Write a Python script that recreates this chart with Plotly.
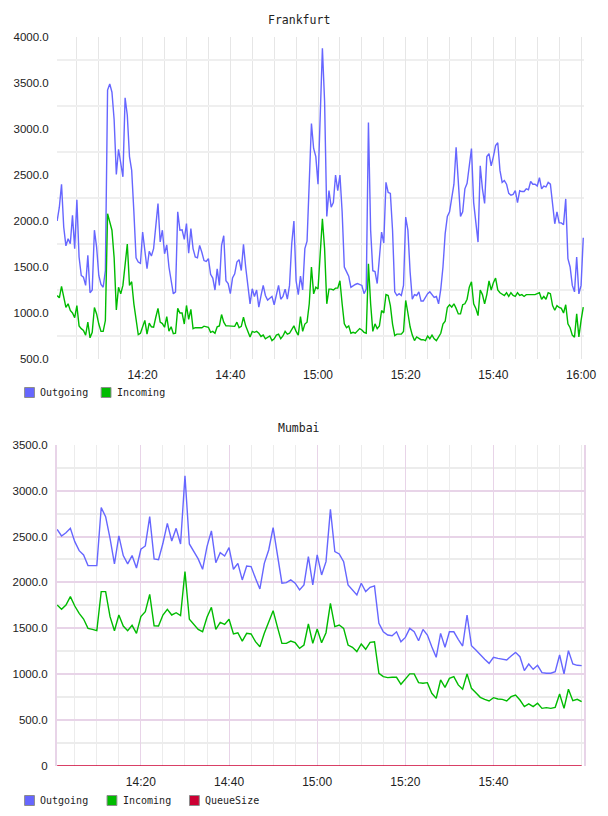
import pandas as pd
import plotly.graph_objects as go

# ---------------- data ----------------
frankfurt_start = "2024-01-01 14:00:30"
frankfurt_step_s = 30
frankfurt_outgoing = [
    2000, 2150, 2400, 1935, 1730, 1807, 1753, 2062, 1700, 2230,
    1608, 1408, 1390, 1300, 1626, 1220, 1250, 1900, 1717, 1408,
    1310, 1280, 1460, 3423, 3490, 3400, 3100, 2505, 2780, 2624,
    2480, 3340, 3150, 2700, 2550, 2100, 1600, 1554, 1540, 1880,
    1650, 1481, 1670, 1620, 1700, 1950, 2189, 1772, 1900, 1644,
    1740, 1500, 1354, 1208, 1230, 2100, 1900, 1905, 1800, 1971,
    1650, 1917, 1700, 1610, 1600, 1735, 1660, 1570, 1560, 1590,
    1420, 1380, 1250, 1480, 1300, 1735, 1840, 1350, 1320, 1210,
    1380, 1426, 1553, 1580, 1462, 1746, 1500, 1300, 1100, 1263,
    1180, 1250, 1063, 1190, 1300, 1190, 1140, 1160, 1180, 1090,
    1190, 1300, 1150, 1180, 1260, 1150, 1300, 1750, 2000, 1350,
    1200, 1400, 1250, 1700, 1780, 2400, 3060, 2788, 2700, 2400,
    3100, 3877, 3300, 2050, 2330, 2150, 2200, 2500, 2330, 2500,
    2100, 1500, 1450, 1400, 1280, 1300, 1310, 1320, 1310, 1300,
    1210, 1260, 3070, 1900, 1460, 1450, 1320, 1600, 1880, 1760,
    2420, 2310, 2300, 1900, 1230, 1190, 1210, 1190, 1300, 2043,
    1900, 1450, 1150, 1200, 1190, 1230, 1130, 1130, 1170, 1210,
    1230, 1195, 1170, 1180, 1100, 1260, 1500, 1860, 2050, 2100,
    2243, 2400, 2800, 2450, 2050, 2100, 2350, 2410, 2600, 2788,
    2200, 2000, 1771, 2600, 2350, 2190, 2700, 2733, 2600, 2700,
    2820, 2850, 2550, 2420, 2440, 2400, 2300, 2280, 2290, 2330,
    2200, 2330, 2320, 2320, 2350, 2340, 2430, 2400, 2400, 2380,
    2470, 2350, 2380, 2370, 2420, 2400, 2180, 1970, 2100, 1980,
    1980, 1960, 2240, 1590, 1500, 1300, 1230, 1608, 1208, 1300,
    1818,
]
frankfurt_incoming = [
    1190, 1165, 1290, 1154, 1060, 1100, 1027, 1000, 950, 1080,
    860, 830, 810, 760, 900, 730, 790, 1060, 990, 880,
    800, 800, 918, 2080, 2000, 1900, 1600, 1034, 1280, 1208,
    1300, 1540, 1750, 1300, 1340, 1100, 900, 765, 780, 860,
    920, 770, 890, 850, 845, 954, 1050, 900, 885, 845,
    960, 802, 850, 775, 780, 1050, 1000, 1000, 880, 1082,
    930, 1040, 830, 840, 840, 845, 840, 857, 855, 845,
    790, 800, 780, 850, 860, 983, 900, 860, 860, 860,
    860, 855, 900, 840, 855, 954, 860, 790, 740, 800,
    790, 800, 780, 745, 760, 720, 740, 750, 700, 720,
    760, 770, 720, 750, 800, 770, 780, 820, 860, 800,
    760, 960, 800, 880, 900, 1100, 1500, 1208, 1280, 1260,
    1650, 2025, 1700, 1100, 1260, 1260, 1250, 1270, 1270, 1350,
    1100, 882, 840, 860, 780, 790, 780, 800, 830, 815,
    790, 780, 1535, 1100, 800, 882, 830, 860, 1027, 1000,
    1200, 1190, 1080, 880, 754, 770, 770, 770, 800, 1136,
    1000, 850, 760, 700, 740, 720, 710, 710, 700, 750,
    720, 760, 720, 700, 740, 780, 880, 910, 1060, 1090,
    1065, 1100, 1050, 990, 990, 1090, 1100, 1150, 1280, 1340,
    1100, 1050, 972, 1250, 1200, 1100, 1200, 1350, 1250, 1330,
    1380, 1250, 1220, 1200, 1190, 1220, 1180, 1220, 1190, 1180,
    1220, 1190, 1200, 1180, 1200, 1200, 1200, 1200, 1200, 1210,
    1220, 1150, 1180, 1150, 1220, 1210, 1080, 1030, 1080, 1060,
    1050, 1000, 1090, 882, 840, 760, 736, 990, 740, 920,
    1063,
]

mumbai_start = "2024-01-01 14:01:00"
mumbai_step_s = 60
mumbai_outgoing = [
    2578, 2506, 2540, 2589, 2444, 2346, 2299, 2183, 2183, 2183,
    2814, 2716, 2480, 2202, 2506, 2292, 2202, 2292, 2157, 2361,
    2397, 2716, 2256, 2248, 2426, 2643, 2451, 2589, 2419, 3160,
    2419, 2335, 2256, 2143, 2390, 2561, 2215, 2324, 2288, 2379,
    2143, 2208, 2027, 2179, 2172, 2045, 1929, 2208, 2353, 2596,
    2299, 1991, 1998, 2027, 1991, 1918, 1973, 2281, 1973, 2299,
    2081, 2226, 2796, 2335, 2310, 2226, 1973, 1918, 1864, 1991,
    1900, 1947, 1962, 1554, 1462, 1427, 1419, 1462, 1354, 1401,
    1499, 1462, 1365, 1488, 1427, 1300, 1184, 1445, 1293, 1462,
    1462, 1380, 1307, 1645, 1311, 1264, 1209, 1162, 1118, 1184,
    1173, 1162, 1155, 1198, 1238, 1191, 1039, 1111, 1053, 1097,
    1017, 1010, 1010, 1028, 1209, 1003, 1257, 1111, 1097, 1093,
]
mumbai_incoming = [
    1754, 1707, 1754, 1845, 1743, 1663, 1601, 1499, 1488, 1474,
    1899, 1899, 1627, 1474, 1645, 1525, 1474, 1532, 1445, 1627,
    1682, 1870, 1528, 1525, 1645, 1707, 1645, 1670, 1638, 2117,
    1598, 1547, 1488, 1463, 1620, 1729, 1488, 1565, 1543, 1598,
    1438, 1452, 1361, 1445, 1438, 1354, 1300, 1445, 1561, 1692,
    1510, 1336, 1336, 1361, 1343, 1282, 1318, 1547, 1336, 1493,
    1343, 1452, 1772, 1518, 1536, 1499, 1318, 1293, 1246, 1329,
    1271, 1347, 1354, 1010, 974, 963, 966, 966, 890, 945,
    1003, 1003, 908, 901, 908, 792, 737, 937, 857, 955,
    974, 883, 836, 1003, 846, 799, 748, 726, 708, 744,
    730, 726, 708, 755, 773, 719, 647, 676, 647, 683,
    628, 636, 628, 639, 784, 628, 836, 712, 726, 701,
]
mumbai_queue = [0] * len(mumbai_outgoing)

frankfurt_yticks = [500, 1000, 1500, 2000, 2500, 3000, 3500, 4000]
frankfurt_ygrid = [750, 1250, 1750, 2250, 2750, 3250, 3750]
mumbai_yticks = [0, 500, 1000, 1500, 2000, 2500, 3000, 3500]
mumbai_yticktext = ["0", "500.0", "1000.0", "1500.0", "2000.0", "2500.0", "3000.0", "3500.0"]
frankfurt_xticks = ["14:20", "14:40", "15:00", "15:20", "15:40", "16:00"]
mumbai_xticks = ["14:20", "14:40", "15:00", "15:20", "15:40"]
day = "2024-01-01 "

frankfurt_series = ["Outgoing", "Incoming"]
mumbai_series = ["Outgoing", "Incoming", "QueueSize"]

# ---------------- styling ----------------
C_OUT = "#6666ff"
C_IN = "#00bb00"
C_Q = "#cc0033"
COLORS = {"Outgoing": C_OUT, "Incoming": C_IN, "QueueSize": C_Q}
TICK_FONT = dict(family="Liberation Sans, Arial, sans-serif", size=11.5, color="#222")
XTICK_FONT = dict(family="Liberation Sans, Arial, sans-serif", size=12, color="#222")
MONO = "DejaVu Sans Mono, monospace"
PINK = "#e8d4e8"
GREY = "#ececec"

f_times = pd.date_range(frankfurt_start, periods=len(frankfurt_outgoing), freq=f"{frankfurt_step_s}s")
m_times = pd.date_range(mumbai_start, periods=len(mumbai_outgoing), freq=f"{mumbai_step_s}s")

fig = go.Figure()
line_w = 1.4
fig.add_trace(go.Scatter(x=f_times, y=frankfurt_outgoing, mode="lines", name="Outgoing",
                         line=dict(color=C_OUT, width=line_w), xaxis="x", yaxis="y"))
fig.add_trace(go.Scatter(x=f_times, y=frankfurt_incoming, mode="lines", name="Incoming",
                         line=dict(color=C_IN, width=line_w), xaxis="x", yaxis="y"))
fig.add_trace(go.Scatter(x=m_times, y=mumbai_outgoing, mode="lines", name="Outgoing",
                         line=dict(color=C_OUT, width=line_w), xaxis="x2", yaxis="y2"))
fig.add_trace(go.Scatter(x=m_times, y=mumbai_incoming, mode="lines", name="Incoming",
                         line=dict(color=C_IN, width=line_w), xaxis="x2", yaxis="y2"))
fig.add_trace(go.Scatter(x=m_times, y=mumbai_queue, mode="lines", name="QueueSize",
                         line=dict(color=C_Q, width=1.6), xaxis="x2", yaxis="y2",
                         cliponaxis=False))

L, R, T, B = 57, 14, 37, 50
W, H = 608, 816
plot_h = H - T - B
plot_w = W - L - R
def py(ypix):
    return (H - B - ypix) / plot_h
def px(xpix):
    return (xpix - L) / plot_w

xcommon = dict(type="date", tickformat="%H:%M", tickfont=XTICK_FONT, ticks="outside", ticklen=5,
               tickcolor="rgba(0,0,0,0)", zeroline=False, showline=False, fixedrange=True,
               layer="below traces")

# custom legends (swatch squares + text), positioned like the original
annotations = [
    dict(text="Frankfurt", x=px(304), y=py(20), xref="paper", yref="paper", showarrow=False,
         font=dict(family=MONO, size=11.5, color="#222"), xanchor="center", yanchor="middle"),
    dict(text="Mumbai", x=px(304), y=py(428), xref="paper", yref="paper", showarrow=False,
         font=dict(family=MONO, size=11.5, color="#222"), xanchor="center", yanchor="middle"),
]
shapes = []
legend_rows = [
    (frankfurt_series, [24, 102], 392.5),
    (mumbai_series, [24, 108, 192], 800.5),
]
for names, lefts, yc in legend_rows:
    for name, x0 in zip(names, lefts):
        shapes.append(dict(type="rect", xref="paper", yref="paper",
                           x0=px(x0), x1=px(x0 + 10), y0=py(yc + 5), y1=py(yc - 5),
                           fillcolor=COLORS[name], line=dict(color="#8c8c8c", width=1)))
        annotations.append(dict(text=name, x=px(x0 + 14), y=py(yc), xref="paper", yref="paper",
                                showarrow=False, xanchor="left", yanchor="middle",
                                font=dict(family=MONO, size=10, color="#222")))

fig.update_layout(
    width=W, height=H,
    margin=dict(l=L, r=R, t=T, b=B),
    paper_bgcolor="white", plot_bgcolor="white",
    showlegend=False,
    xaxis=dict(**xcommon, anchor="y", domain=[0, 1],
               range=[day + "14:00:28", day + "16:00:40"],
               tickmode="array", tickvals=[day + t for t in frankfurt_xticks], ticktext=frankfurt_xticks,
               showgrid=True, gridcolor="#e6e6e6", gridwidth=1,
               minor=dict(tick0=day + "14:00:00", dtick=300000, showgrid=True, gridcolor="#e6e6e6", gridwidth=1)),
    yaxis=dict(anchor="x", domain=[py(359), 1], range=[500, 4000],
               tickmode="array", tickvals=frankfurt_yticks, tickformat=".1f",
               tickfont=TICK_FONT, ticks="outside", ticklen=5, tickcolor="rgba(0,0,0,0)",
               showgrid=False, zeroline=False, showline=False, layer="below traces",
               minor=dict(tickmode="array", tickvals=frankfurt_ygrid, showgrid=True, gridcolor="#efefef", gridwidth=2)),
    xaxis2=dict(**xcommon, anchor="y2", domain=[0, 1],
                range=[day + "14:00:58", day + "16:00:32"],
                tickmode="array", tickvals=[day + t for t in mumbai_xticks], ticktext=mumbai_xticks,
                showgrid=True, gridcolor=PINK, gridwidth=1,
                minor=dict(tick0=day + "14:00:00", dtick=300000, showgrid=True, gridcolor=GREY, gridwidth=1)),
    yaxis2=dict(anchor="x2", domain=[0, py(444.7)], range=[0, 3500],
                tickmode="array", tickvals=mumbai_yticks, ticktext=mumbai_yticktext,
                tickfont=TICK_FONT, ticks="outside", ticklen=5, tickcolor="rgba(0,0,0,0)",
                showgrid=True, gridcolor=PINK, gridwidth=2, zeroline=False,
                showline=True, mirror=True, linecolor=PINK, linewidth=2, layer="below traces",
                minor=dict(dtick=250, tick0=0, showgrid=True, gridcolor=GREY, gridwidth=2)),
    annotations=annotations,
    shapes=shapes,
)

fig.write_html("out.html")
